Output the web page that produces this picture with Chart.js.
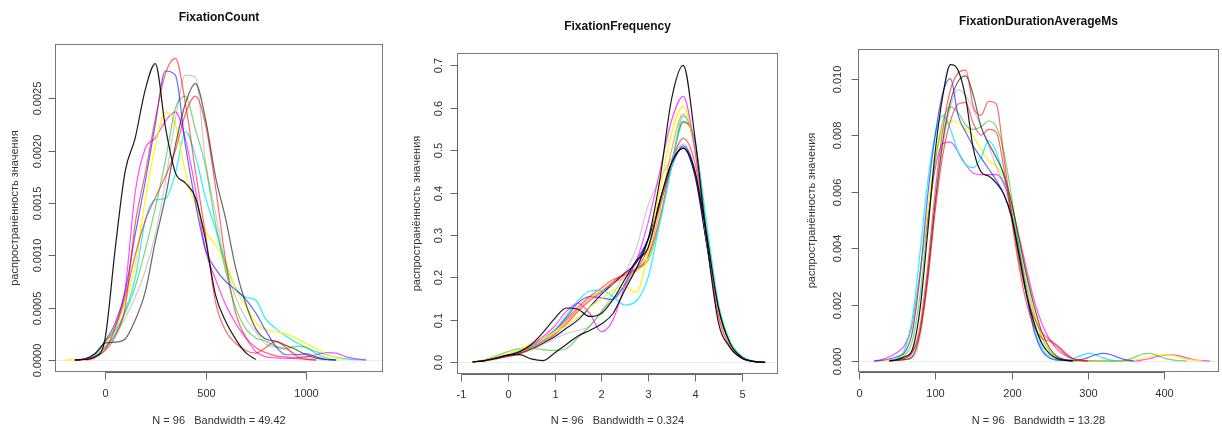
<!DOCTYPE html>
<html><head><meta charset="utf-8">
<script src="https://cdn.jsdelivr.net/npm/chart.js@4.4.1/dist/chart.umd.min.js"></script>
<style>
html,body{margin:0;padding:0;background:#fff;}
#wrap{position:relative;width:1222px;height:430px;overflow:hidden;}
.p{position:absolute;top:0;height:430px;}
canvas{display:block;}
</style></head><body>
<div id="wrap">
<div class="p" style="left:0;width:400px"><canvas id="c1" width="400" height="430"></canvas></div>
<div class="p" style="left:400px;width:400px"><canvas id="c2" width="400" height="430"></canvas></div>
<div class="p" style="left:800px;width:422px"><canvas id="c3" width="422" height="430"></canvas></div>
</div>
<script>
// ---------- Panel 1: FixationCount (density in units of 1e-4) ----------
const fcX = [-200,-150,-100,-50,0,50,100,150,200,250,300,350,400,450,500,550,600,650,700,750,800,850,900,950,1000,1050,1100,1150,1200,1250,1300];
const fcBlack   = [null,0,0.05,0.3,2.0,10.5,18,21.2,25.8,28.3,22.3,17.9,16.9,15.5,11.5,6.2,3.7,2.0,0.7,0.05];
const fcRed1    = [null,0,0.1,0.3,0.9,2.2,5,13,17.8,23,27.3,28.8,24.5,18,12,5.5,2.8,1.6,0.9,0.65,1.2,1.75,1.2,0.4,0.1,0];
const fcBlue    = [null,0,0.1,0.6,1.8,3.5,6.5,12,17,22.5,27.6,27.2,20.5,15,10.5,8.7,7.5,6.7,5.8,4.5,2.8,1.3,0.5,0.5,0.6,0.3,0.05,0];
const fcLgray   = [null,0,0.05,0.3,1.2,2.5,4,6,8.5,12,17,23,27.2,27,19,14,9,6,4,2.7,1.5,1.2,1.0,0.6,0.3,0.1,0];
const fcDgray   = [null,0,0.1,0.6,1.6,1.7,2.0,3.8,6.5,11.3,15.5,20.5,24.5,26.4,23,17.5,13.5,8.8,5.4,3.0,2.0,1.8,1.4,1.0,0.5,0.2,0.05,0];
const fcGreen   = [null,0,0.1,0.5,1.8,2.8,4.5,7,10.5,14.5,19,24,25.2,22,18.5,13,8.5,5,3,2.1,1.8,1.3,1.1,1.3,1.2,0.6,0.2,0];
const fcRed2    = [null,null,0,0.2,1.0,3,6,10,13.3,15.5,17.5,20,23.5,25.2,22.5,16.5,9.5,4.5,2.2,1.2,0.7,0.4,0.3,0.15,0.05,0];
const fcYellow  = [0,0.02,0.1,0.5,1.5,3,5.5,9,15.3,20.4,23.7,22.5,18,14.8,12.3,11,9.4,6.8,5.2,3.6,2.9,2.7,2.5,2.1,1.6,1.1,0.6,0.2,0];
const fcMagenta = [null,0,0.1,0.6,1.6,3.2,6.8,16,20.2,21.2,22.8,23.7,21.1,16.3,10.5,7.7,5.3,3.5,2.1,0.8,0.3,0.2,0.15,0.2,0.3,0.5,0.7,0.65,0.3,0.1,0];
const fcCyan    = [null,0,0.1,0.4,1.2,2.4,4.7,7.8,13.3,15.3,15.4,17.8,21.8,19.5,15.5,12.5,9.2,6.9,6.0,5.7,3.9,3.0,2.3,1.7,1.2,0.8,0.5,0.25,0.1,0.03,0];
const fcXTicks = [0,500,1000];
const fcXTickLabels = ["0","500","1000"];
const fcYTicks = [0,5,10,15,20,25];
const fcYTickLabels = ["0.0000","0.0005","0.0010","0.0015","0.0020","0.0025"];

// ---------- Panel 2: FixationFrequency ----------
const ffX = [-0.75,-0.5,-0.25,0,0.25,0.5,0.75,1,1.25,1.5,1.75,2,2.25,2.5,2.75,3,3.25,3.5,3.75,4,4.25,4.5,4.75,5,5.25,5.5];
const ffBlackA  = [0.001,0.004,0.01,0.017,0.018,0.008,0.004,0.022,0.042,0.062,0.075,0.09,0.115,0.17,0.222,0.29,0.43,0.62,0.70,0.53,0.29,0.095,0.035,0.01,0.002,0];
const ffBlackB  = [0.001,0.004,0.01,0.017,0.025,0.042,0.07,0.103,0.128,0.125,0.108,0.115,0.148,0.195,0.24,0.27,0.38,0.47,0.505,0.45,0.30,0.13,0.045,0.012,0.002,0];
const ffMagenta = [0.001,0.004,0.01,0.015,0.025,0.04,0.06,0.085,0.12,0.139,0.115,0.072,0.10,0.18,0.24,0.33,0.45,0.57,0.627,0.5,0.29,0.11,0.035,0.01,0.002,0];
const ffYellow  = [0.001,0.005,0.012,0.02,0.03,0.045,0.055,0.07,0.085,0.105,0.13,0.15,0.17,0.178,0.165,0.26,0.405,0.54,0.603,0.5,0.29,0.115,0.04,0.011,0.002,0];
const ffCyan    = [0.001,0.004,0.01,0.017,0.028,0.038,0.05,0.075,0.11,0.145,0.168,0.17,0.155,0.135,0.145,0.2,0.33,0.46,0.58,0.52,0.33,0.14,0.05,0.015,0.003,0];
const ffGreen   = [0.001,0.006,0.015,0.025,0.032,0.033,0.03,0.028,0.032,0.058,0.085,0.118,0.15,0.18,0.22,0.24,0.33,0.46,0.565,0.52,0.31,0.13,0.045,0.012,0.002,0];
const ffRedA    = [0.001,0.003,0.008,0.014,0.02,0.03,0.045,0.065,0.09,0.12,0.145,0.165,0.19,0.21,0.22,0.25,0.34,0.47,0.568,0.52,0.31,0.13,0.045,0.012,0.002,0];
const ffOrange  = [0.001,0.004,0.01,0.016,0.024,0.034,0.048,0.068,0.095,0.125,0.15,0.168,0.185,0.2,0.215,0.25,0.36,0.5,0.585,0.5,0.29,0.115,0.04,0.011,0.002,0];
const ffRedB    = [0.001,0.004,0.01,0.016,0.025,0.038,0.055,0.075,0.1,0.13,0.155,0.175,0.195,0.205,0.22,0.27,0.37,0.47,0.528,0.47,0.3,0.13,0.045,0.012,0.002,0];
const ffLgray   = [0.001,0.003,0.008,0.013,0.02,0.03,0.042,0.055,0.068,0.075,0.085,0.12,0.16,0.21,0.27,0.37,0.43,0.48,0.515,0.45,0.28,0.12,0.04,0.01,0.002,0];
const ffBlue    = [0.001,0.004,0.01,0.016,0.025,0.035,0.05,0.075,0.105,0.14,0.155,0.152,0.148,0.185,0.24,0.29,0.37,0.46,0.51,0.45,0.28,0.12,0.04,0.01,0.002,0];
const ffNavy    = [0.001,0.004,0.01,0.015,0.022,0.032,0.045,0.06,0.08,0.1,0.13,0.16,0.185,0.21,0.235,0.29,0.38,0.47,0.505,0.44,0.28,0.12,0.04,0.01,0.002,0];
const ffXTicks = [-1,0,1,2,3,4,5];
const ffXTickLabels = ["-1","0","1","2","3","4","5"];
const ffYTicks = [0,0.1,0.2,0.3,0.4,0.5,0.6,0.7];
const ffYTickLabels = ["0.0","0.1","0.2","0.3","0.4","0.5","0.6","0.7"];

// ---------- Panel 3: FixationDurationAverageMs (density in units of 1e-3) ----------
const fdX = [20,30,40,50,60,70,80,90,100,110,120,130,140,150,160,170,180,190,200,210,220,230,240,250,260,270,280,290,300,310,320,330,340,350,360,370,380,390,400,410,420,430,440,450,460];
const fdBlack   = [null,null,0,0.05,0.15,0.4,1.8,4.5,7.4,9.4,10.5,10.3,9.3,7.5,6.7,6.55,6.3,5.9,5.1,3.7,2.3,1.3,0.6,0.25,0.08,0.02,0];
const fdRed1    = [null,null,0,0.02,0.1,0.3,1.2,3.3,6.0,8.2,9.6,10.2,10.3,9.0,8.7,9.2,9.1,7.2,5.2,3.5,2.3,1.5,1.0,0.75,0.55,0.3,0.1,0.02,0];
const fdRed2    = [null,null,0.01,0.03,0.1,0.3,1.0,2.8,5.3,7.3,8.5,9.1,9.15,8.4,8.0,8.2,8.1,6.8,5.0,3.3,2.0,1.2,0.8,0.7,0.5,0.25,0.08,0.02,0];
const fdDgray   = [null,null,null,0.02,0.05,0.15,1.0,3.0,5.6,7.8,9.2,9.9,10.1,9.4,8.3,7.7,7.2,6.6,5.6,4.3,3.0,1.9,1.0,0.45,0.15,0.05,0];
const fdBlue    = [0,0.02,0.07,0.15,0.3,1.0,3.0,5.8,8.0,9.5,10.0,8.7,8.1,7.6,7.2,6.8,6.4,5.9,5.1,3.8,2.3,1.0,0.35,0.1,0.03,0.02,0.02,0.05,0.12,0.22,0.27,0.22,0.12,0.04,0];
const fdLgray   = [null,null,null,0.02,0.05,0.1,0.8,2.8,5.5,7.6,9.0,9.6,9.4,8.9,8.3,7.6,6.9,6.2,5.3,4.0,2.7,1.6,0.8,0.35,0.12,0.03,0];
const fdGreen   = [null,null,0.01,0.05,0.2,0.7,2.3,4.8,7.0,8.5,9.0,8.8,8.35,8.2,8.3,8.5,8.3,7.4,5.8,4.0,2.5,1.3,0.6,0.25,0.08,0.02,0,0,0,0,0,0,0,0.03,0.12,0.24,0.27,0.2,0.1,0.04,0.01,0];
const fdCyan    = [null,null,0.03,0.1,0.4,1.5,3.8,6.3,8.0,8.7,8.2,7.4,6.95,6.85,7.2,7.8,7.4,6.5,5.3,3.8,2.3,1.1,0.45,0.15,0.05,0.03,0.08,0.18,0.27,0.22,0.1,0.03,0];
const fdYellow  = [null,0,0.02,0.05,0.3,1.1,3.0,5.3,7.2,8.2,8.5,8.45,8.2,7.95,7.5,7.1,6.9,6.5,5.6,4.3,2.9,1.7,0.85,0.35,0.12,0.04,0.01,0,0,0,0,0,0,0,0.03,0.08,0.15,0.2,0.22,0.2,0.13,0.06,0.02,0];
const fdMagenta = [0,0.05,0.15,0.3,0.55,1.3,3.1,5.0,6.8,7.7,7.75,7.4,6.95,6.65,6.6,6.6,6.6,6.3,5.5,4.4,3.2,2.1,1.3,0.75,0.4,0.2,0.08,0.03,0.01,0,0,0,0,0,0,0.03,0.08,0.15,0.21,0.22,0.18,0.1,0.04,0.01,0];
const fdXTicks = [0,100,200,300,400];
const fdXTickLabels = ["0","100","200","300","400"];
const fdYTicks = [0,2,4,6,8,10];
const fdYTickLabels = ["0.000","0.002","0.004","0.006","0.008","0.010"];

const yAxisTitle = "распространённость значения";

// ---------- styles ----------
const C = {
  black:'rgba(0,0,0,0.9)', red:'rgba(255,0,0,0.6)', blue:'rgba(0,0,255,0.6)',
  green:'rgba(0,190,0,0.55)', cyan:'rgba(0,240,255,0.85)', magenta:'rgba(255,0,255,0.7)',
  yellow:'rgba(255,245,0,0.95)', lgray:'rgba(0,0,0,0.2)', dgray:'rgba(0,0,0,0.6)',
  orange:'rgba(255,160,0,0.8)', navy:'rgba(0,0,140,0.9)'
};
const FONT = '"Liberation Sans", Arial, sans-serif';

function rAxesPlugin(o){
  return {
    id:'rAxes',
    beforeDatasetsDraw(chart){
      const {ctx, chartArea:a, scales:{y}} = chart;
      const y0 = Math.round(y.getPixelForValue(0)) + 0.5;
      ctx.save();
      ctx.strokeStyle = '#ececec'; ctx.lineWidth = 1;
      ctx.beginPath(); ctx.moveTo(a.left, y0); ctx.lineTo(a.right, y0); ctx.stroke();
      ctx.restore();
    },
    afterDraw(chart){
      const {ctx, chartArea:a, scales:{x,y}} = chart;
      ctx.save();
      ctx.strokeStyle = '#777'; ctx.lineWidth = 1;
      ctx.strokeRect(Math.round(a.left)+0.5, Math.round(a.top)+0.5, Math.round(a.right-a.left)-1, Math.round(a.bottom-a.top)-1);
      ctx.strokeStyle = '#666';
      const by = Math.round(a.bottom) + 0.5, lx = Math.round(a.left) + 0.5;
      const xs = o.xTicks.map(v => Math.round(x.getPixelForValue(v)) + 0.5);
      ctx.beginPath(); ctx.moveTo(xs[0], by); ctx.lineTo(xs[xs.length-1], by);
      xs.forEach(px => { ctx.moveTo(px, by); ctx.lineTo(px, by + 7); });
      const ys = o.yTicks.map(v => Math.round(y.getPixelForValue(v)) + 0.5);
      ctx.moveTo(lx, ys[0]); ctx.lineTo(lx, ys[ys.length-1]);
      ys.forEach(py => { ctx.moveTo(lx, py); ctx.lineTo(lx - 7, py); });
      ctx.stroke();
      ctx.fillStyle = '#333';
      ctx.font = '11px ' + FONT; ctx.textAlign = 'center'; ctx.textBaseline = 'middle';
      xs.forEach((px,i) => ctx.fillText(o.xLabels[i], px, o.xLabelY));
      ys.forEach((py,i) => {
        ctx.save(); ctx.translate(a.left - o.yLabOff, py); ctx.rotate(-Math.PI/2);
        ctx.fillText(o.yLabels[i], 0, 0); ctx.restore();
      });
      const cx = (a.left + a.right) / 2;
      ctx.fillText(o.sub, cx, o.subY);
      ctx.save(); ctx.translate(a.left - o.yTitleOff, (a.top + a.bottom) / 2); ctx.rotate(-Math.PI/2);
      ctx.fillText(yAxisTitle, 0, 0); ctx.restore();
      ctx.fillStyle = '#111';
      ctx.font = 'bold 12px ' + FONT;
      ctx.fillText(o.title, cx, o.titleY);
      ctx.restore();
    }
  };
}

function makePanel(id, grid, series, colors, o){
  const datasets = series.map((s,i) => ({
    data: grid.map((xv,j) => ({x:xv, y:s[j]})).filter(p => p.y != null),
    borderColor: colors[i], borderWidth: 1.2, pointRadius: 0, fill: false,
    cubicInterpolationMode: 'monotone'
  }));
  new Chart(document.getElementById(id), {
    type:'line', data:{datasets},
    options:{
      responsive:false, animation:false, events:[],
      layout:{padding:o.pad},
      scales:{
        x:{type:'linear', display:false, min:o.xmin, max:o.xmax},
        y:{type:'linear', display:false, min:o.ymin, max:o.ymax}
      },
      plugins:{legend:{display:false}, tooltip:{enabled:false}}
    },
    plugins:[rAxesPlugin(o)]
  });
}

makePanel('c1', fcX,
  [fcBlack, fcRed1, fcBlue, fcLgray, fcDgray, fcGreen, fcRed2, fcYellow, fcMagenta, fcCyan],
  [C.black, C.red, C.blue, C.lgray, C.dgray, C.green, C.red, C.yellow, C.magenta, C.cyan],
  {pad:{left:55,right:17,top:44,bottom:58}, xmin:-248.8, xmax:1383, ymin:-1.146, ymax:30.18,
   xTicks:fcXTicks, xLabels:fcXTickLabels, yTicks:fcYTicks, yLabels:fcYTickLabels,
   title:'FixationCount', titleY:18, sub:'N = 96   Bandwidth = 49.42', subY:421, xLabelY:394, yLabOff:17, yTitleOff:40});

makePanel('c2', ffX,
  [ffBlackA, ffBlackB, ffMagenta, ffYellow, ffCyan, ffGreen, ffRedA, ffOrange, ffRedB, ffLgray, ffBlue, ffNavy],
  [C.black, C.black, C.magenta, C.yellow, C.cyan, C.green, C.red, C.orange, C.red, C.lgray, C.blue, C.navy],
  {pad:{left:57,right:22,top:53,bottom:56}, xmin:-1.086, xmax:5.776, ymin:-0.0276, ymax:0.729,
   xTicks:ffXTicks, xLabels:ffXTickLabels, yTicks:ffYTicks, yLabels:ffYTickLabels,
   title:'FixationFrequency', titleY:27, sub:'N = 96   Bandwidth = 0.324', subY:421, xLabelY:395, yLabOff:18, yTitleOff:40});

makePanel('c3', fdX,
  [fdBlack, fdRed1, fdRed2, fdDgray, fdBlue, fdLgray, fdGreen, fdCyan, fdYellow, fdMagenta],
  [C.black, C.red, C.red, C.dgray, C.blue, C.lgray, C.green, C.cyan, C.yellow, C.magenta],
  {pad:{left:58,right:3,top:49,bottom:58}, xmin:-1, xmax:471.4, ymin:-0.39, ymax:11.05,
   xTicks:fdXTicks, xLabels:fdXTickLabels, yTicks:fdYTicks, yLabels:fdYTickLabels,
   title:'FixationDurationAverageMs', titleY:22, sub:'N = 96   Bandwidth = 13.28', subY:421, xLabelY:394, yLabOff:20, yTitleOff:46});
</script>
</body></html>
